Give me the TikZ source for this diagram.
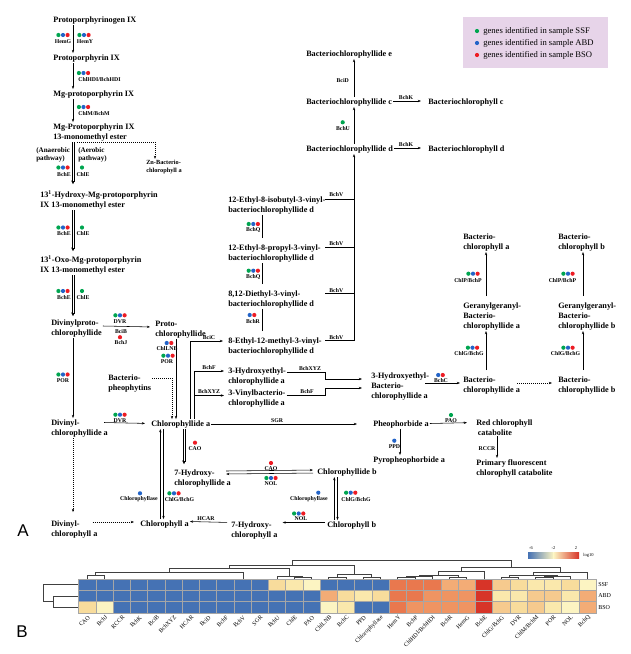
\documentclass[tikz,border=0pt]{standalone}
\usepackage{fontspec}
\setmainfont{Liberation Serif}
\newfontfamily\panelfont{Liberation Sans}
\usetikzlibrary{arrows.meta}

\definecolor{cssf}{RGB}{0,165,80}
\definecolor{cabd}{RGB}{35,100,200}
\definecolor{cbso}{RGB}{237,28,36}
\definecolor{legbg}{RGB}{231,212,233}
\definecolor{hmB}{RGB}{69,114,180}
\definecolor{hmY1}{RGB}{252,244,194}
\definecolor{hmY2}{RGB}{250,232,172}
\definecolor{hmY3}{RGB}{248,220,156}
\definecolor{hmY4}{RGB}{246,202,142}
\definecolor{hmO1}{RGB}{243,172,118}
\definecolor{hmO2}{RGB}{239,148,98}
\definecolor{hmO3}{RGB}{233,120,78}
\definecolor{hmR}{RGB}{215,52,40}

\def\allGBR{-4.6/cssf,0/cabd,4.6/cbso}
\def\pairBR{-2.3/cabd,2.3/cbso}
\def\onlyG{0/cssf}
\def\onlyB{0/cabd}
\def\onlyR{0/cbso}
\def\slh{/}
% left aligned lines, baseline on the first line
\newcommand{\cstack}[1]{\vtop{\halign{##\hfil\cr#1\crcr}}}

\begin{document}
\begin{tikzpicture}[
  x=1pt,y=-1pt,line width=0.55pt,
  cpd/.style={anchor=base west,inner sep=1pt,font=\fontsize{8.2}{10}\selectfont\bfseries},
  minor/.style={anchor=base west,inner sep=1pt,font=\fontsize{6.3}{8}\selectfont\bfseries},
  waylab/.style={anchor=base west,inner sep=0pt,font=\fontsize{7.1}{8}\selectfont\bfseries},
  enz/.style={inner sep=0.3pt,font=\fontsize{5.8}{6}\selectfont\bfseries},
  legtxt/.style={anchor=west,inner sep=0pt,font=\fontsize{8.6}{10}\selectfont},
  collab/.style={anchor=east,rotate=45,inner sep=0.5pt,font=\fontsize{6}{6}\selectfont},
  rowlab/.style={anchor=west,inner sep=0pt,font=\fontsize{6}{6}\selectfont},
  panel/.style={inner sep=0pt,font=\panelfont\fontsize{17}{17}\selectfont},
  arr/.style={-{Stealth[length=3.2pt,width=2.4pt]}},
  twinhead/.style={-{Stealth[length=3.6pt,width=3.6pt]}},
  dsh/.style={dash pattern=on 1pt off 1pt},
  dend/.style={draw=black!75,line width=0.7pt}
]
\useasboundingbox (0,0) rectangle (630,654);

\def\genes(#1,#2)#3;{\foreach \dx/\c in #3 {\fill[\c] (#1+\dx,#2) circle (2.1pt);}}
\def\den(#1,#2)(#3,#4)#5;{\draw[dend] (#1,#2) |- (#3,#5) -- (#3,#4);}
% two parallel lines with one head, from #1 down to #2
\def\twin#1#2{
  \draw[line width=0.45pt] ([xshift=-0.85pt]#1) -- ([xshift=-0.85pt,yshift=2pt]#2);
  \draw[line width=0.45pt] ([xshift=0.85pt]#1) -- ([xshift=0.85pt,yshift=2pt]#2);
  \draw[twinhead,line width=0.45pt] ([yshift=3pt]#2) -- (#2);
}

% legend
\fill[legbg] (463,17) rectangle (608,68);
\foreach \c/\s [count=\i] in {cssf/SSF,cabd/ABD,cbso/BSO} {
  \fill[\c] (477,19+12*\i) circle (2.1pt);
  \node[legtxt] (leg\s) at (483,19+12*\i) {genes identified in sample \s};
}

% compounds, left column
\node[cpd] (ppgen) at (52,22) {Protoporphyrinogen IX};
\node[cpd] (ppix) at (52,60) {Protoporphyrin IX};
\node[cpd] (mgpp) at (52,96) {Mg-protoporphyrin IX};
\node[cpd] (mgme) at (52,129) {\cstack{Mg-Protoporphyrin IX\cr 13-monomethyl ester}};
\node[waylab] (anaer) at (36,152.5) {\cstack{(Anaerobic\cr pathway)}};
\node[waylab] (aer) at (78,152.5) {\cstack{(Aerobic\cr pathway)}};
\node[minor] (znbchl) at (145,164.5) {\cstack{Zn-Bacterio-\cr chlorophyll a}};
\node[cpd] (hyd) at (39,197) {\cstack{13\textsuperscript{1}-Hydroxy-Mg-protoporphyrin\cr IX 13-monomethyl ester}};
\node[cpd] (oxo) at (39,262) {\cstack{13\textsuperscript{1}-Oxo-Mg-protoporphyrin\cr IX 13-monomethyl ester}};
\node[cpd] (dvpchlide) at (50,325) {\cstack{Divinylproto-\cr chlorophyllide}};
\node[cpd] (pchlide) at (154,326) {\cstack{Proto-\cr chlorophyllide}};
\node[cpd] (bpheo) at (107,380) {\cstack{Bacterio-\cr pheophytins}};
\node[cpd] (dvchlide) at (50,425) {\cstack{Divinyl-\cr chlorophyllide a}};
\node[cpd] (chlidea) at (150,426) {Chlorophyllide a};
\node[cpd] (hchlide) at (173,475) {\cstack{7-Hydroxy-\cr chlorophyllide a}};
\node[cpd] (chlideb) at (316,474) {Chlorophyllide b};
\node[cpd] (dvchl) at (50,526) {\cstack{Divinyl-\cr chlorophyll a}};
\node[cpd] (chla) at (139,526) {Chlorophyll a};
\node[cpd] (hchl) at (230,527) {\cstack{7-Hydroxy-\cr chlorophyll a}};
\node[cpd] (chlb) at (326,527) {Chlorophyll b};

% compounds, bacteriochlorophylls
\node[cpd] (bchlidee) at (305,56) {Bacteriochlorophyllide e};
\node[cpd] (bchlidec) at (305,104) {Bacteriochlorophyllide c};
\node[cpd] (bchlided) at (305,151) {Bacteriochlorophyllide d};
\node[cpd] (bchlc) at (427,104) {Bacteriochlorophyll c};
\node[cpd] (bchld) at (427,151) {Bacteriochlorophyll d};
\node[cpd] (eib) at (227,202) {\cstack{12-Ethyl-8-isobutyl-3-vinyl-\cr bacteriochlorophyllide d}};
\node[cpd] (epr) at (227,250) {\cstack{12-Ethyl-8-propyl-3-vinyl-\cr bacteriochlorophyllide d}};
\node[cpd] (dee) at (227,296) {\cstack{8,12-Diethyl-3-vinyl-\cr bacteriochlorophyllide d}};
\node[cpd] (eme) at (227,343) {\cstack{8-Ethyl-12-methyl-3-vinyl-\cr bacteriochlorophyllide d}};
\node[cpd] (hechlide) at (227,373) {\cstack{3-Hydroxyethyl-\cr chlorophyllide a}};
\node[cpd] (vbchlide) at (227,395) {\cstack{3-Vinylbacterio-\cr chlorophyllide a}};
\node[cpd] (hebchlide) at (370,378) {\cstack{3-Hydroxyethyl-\cr Bacterio-\cr chlorophyllide a}};
\node[cpd] (bchlidea) at (462,382) {\cstack{Bacterio-\cr chlorophyllide a}};
\node[cpd] (bchlideb) at (557,382) {\cstack{Bacterio-\cr chlorophyllide b}};
\node[cpd] (ggbchlidea) at (462,308) {\cstack{Geranylgeranyl-\cr Bacterio-\cr chlorophyllide a}};
\node[cpd] (ggbchlideb) at (557,308) {\cstack{Geranylgeranyl-\cr Bacterio-\cr chlorophyllide b}};
\node[cpd] (bchla) at (462,239) {\cstack{Bacterio-\cr chlorophyll a}};
\node[cpd] (bchlb) at (557,239) {\cstack{Bacterio-\cr chlorophyll b}};
\node[cpd] (pheo) at (372,426) {Pheophorbide a};
\node[cpd] (rcc) at (475,425) {\cstack{Red chlorophyll\cr\hskip1.5pt catabolite}};
\node[cpd] (pyro) at (372,462) {Pyropheophorbide a};
\node[cpd] (fcc) at (475,465) {\cstack{Primary fluorescent\cr chlorophyll catabolite}};

% x positions of the vertical connectors
\coordinate (sp) at (73,0);
\coordinate (spz) at (77,0);
\coordinate (xz) at (155,0);
\coordinate (xpc) at (176,0);
\coordinate (xbp) at (172,0);
\coordinate (xci) at (190,0);
\coordinate (xfi) at (194,0);
\coordinate (xca) at (160.3,0);
\coordinate (xcb) at (163.5,0);
\coordinate (xcao) at (184,0);
\coordinate (xda) at (334.3,0);
\coordinate (xdb) at (337.5,0);
\coordinate (xq) at (262,0);
\coordinate (xv) at (325,0);
\coordinate (xs) at (354,0);
\coordinate (xga) at (486,0);
\coordinate (xgb) at (583,0);
\coordinate (xppd) at (400,0);
\coordinate (xrccr) at (497,0);

% ends of the twin-line steps
\coordinate (tw1a) at (mgme.south -| sp);
\coordinate (tw1b) at ([yshift=5pt]hyd.north -| sp);
\coordinate (tw2a) at (hyd.south -| sp);
\coordinate (tw2b) at ([yshift=3pt]oxo.north -| sp);
\coordinate (tw3a) at (oxo.south -| sp);
\coordinate (tw3b) at ([yshift=2pt]dvpchlide.north -| sp);
\coordinate (tw4a) at (chlidea.south -| xcao);
\coordinate (tw4b) at ([yshift=4pt]hchlide.north -| xcao);

% connectors, left column
\draw[arr] (ppgen.south -| sp) -- (ppix.north -| sp);
\draw[arr] (ppix.south -| sp) -- (mgpp.north -| sp);
\draw[arr] (mgpp.south -| sp) -- (mgme.north -| sp);
\twin{tw1a}{tw1b}
\twin{tw2a}{tw2b}
\twin{tw3a}{tw3b}
\draw[arr,dsh] (mgme.south -| spz) -| (znbchl.north -| xz);
\draw[arr] (dvpchlide.south -| sp) -- (dvchlide.north -| sp);
\draw[arr,dsh,shorten >=7pt] (dvchlide.south -| sp) -- (dvchl.north -| sp);
\draw[arr,shorten >=4pt] ([yshift=-1pt]dvpchlide.base east) -- ([yshift=-1pt]pchlide.base west);
\draw[arr] (pchlide.south -| xpc) -- (chlidea.north -| xpc);
\draw[arr,dsh] ([yshift=2pt]bpheo.base east) -| (chlidea.north -| xbp);
\draw[arr,shorten >=5pt] ([xshift=-5pt,yshift=2.5pt]dvchlide.base east) -- ([yshift=2.5pt]chlidea.base west);
\draw[arr,shorten >=15pt] ([yshift=2pt]chlidea.base east) -- ([yshift=2pt]pheo.base west);
\draw[arr,shorten >=8pt] ([yshift=2.5pt]pheo.base east) -- ([yshift=2.5pt]rcc.base west);
\draw[arr] (pheo.south -| xppd) -- (pyro.north -| xppd);
\draw[arr] (rcc.south -| xrccr) -- (fcc.north -| xrccr);
\draw[arr,shorten >=4pt] (chlidea.north -| xci) |- ([yshift=2pt]eme.base west);
\draw[arr,shorten >=3pt] (chlidea.north -| xfi) |- ([yshift=2pt]hechlide.base west);
\draw[arr,shorten >=3pt] ([yshift=-0.5pt]vbchlide.base west -| xfi) -- ([yshift=-0.5pt]vbchlide.base west);
\draw[arr] (chla.north -| xca) -- (chlidea.south -| xca);
\draw[arr] (chlidea.south -| xcb) -- (chla.north -| xcb);
\twin{tw4a}{tw4b}
\draw[arr,shorten >=3pt] ([xshift=-6pt,yshift=4pt]hchlide.base east) -- ([yshift=4pt]chlideb.base west);
\draw[arr,shorten <=3pt] ([yshift=1pt]chlideb.base west) -- ([xshift=-6pt,yshift=1pt]hchlide.base east);
\draw[arr] (chlb.north -| xda) -- (chlideb.south -| xda);
\draw[arr] (chlideb.south -| xdb) -- (chlb.north -| xdb);
\draw[arr,shorten >=4pt,shorten <=1pt] ([yshift=4.5pt]chlb.base west) -- ([yshift=4.5pt]hchl.base east);
\draw[arr,shorten <=3pt] ([yshift=4.5pt]hchl.base west) -- ([yshift=4.5pt]chla.base east);
\draw[arr,dsh,shorten >=5pt] ([xshift=-6pt,yshift=4pt]dvchl.base east) -- ([yshift=4pt]chla.base west);

% connectors, bacteriochlorophylls
\draw[arr] (bchlidec.north -| xs) -- (bchlidee.south -| xs);
\draw[arr] (bchlided.north -| xs) -- (bchlidec.south -| xs);
\draw[arr] ([yshift=2.5pt]eme.base east -| xs) -- (bchlided.south -| xs);
\foreach \n in {eib,epr,dee,eme}
  \draw ([yshift=2.5pt]\n.base east -| xv) -- ([yshift=2.5pt]\n.base east -| xs);
\draw[shorten <=5pt] (eme.north -| xq) -- (dee.south -| xq);
\draw[shorten <=5pt] (dee.north -| xq) -- (epr.south -| xq);
\draw[shorten <=5pt] (epr.north -| xq) -- (eib.south -| xq);
\draw[arr,shorten >=6pt] ([yshift=3pt]bchlidec.base east) -- ([yshift=3pt]bchlc.base west);
\draw[arr,shorten >=6pt] ([yshift=3pt]bchlided.base east) -- ([yshift=3pt]bchld.base west);
\draw[arr,shorten >=8pt] ([yshift=1pt]hechlide.base east) -- ([yshift=1pt]hechlide.base east -| xv) |- ([yshift=-1pt]hebchlide.base west);
\draw[arr,shorten >=8pt] (vbchlide.base east) -- (vbchlide.base east -| xv) |- ([yshift=-10pt]hebchlide.base west);
\draw[arr,shorten >=2pt] ([xshift=-5pt,yshift=-5pt]hebchlide.base east) -- ([yshift=-1pt]bchlidea.base west);
\draw[arr,dsh,shorten >=5pt] ([xshift=-4pt,yshift=-1pt]bchlidea.base east) -- ([yshift=-1pt]bchlideb.base west);
\draw[arr,shorten <=5pt] (bchlidea.north -| xga) -- (ggbchlidea.south -| xga);
\draw[arr,shorten <=5pt] (ggbchlidea.north -| xga) -- (bchla.south -| xga);
\draw[arr,shorten <=5pt] (bchlideb.north -| xgb) -- (ggbchlideb.south -| xgb);
\draw[arr,shorten <=5pt] (ggbchlideb.north -| xgb) -- (bchlb.south -| xgb);

% enzymes
\node[enz] (eHemG) at (63,41.5) {HemG};             \genes(63,35)\allGBR;
\node[enz] (eHemY) at (85,41.5) {HemY};             \genes(84,35)\allGBR;
\node[enz] (eHDI) at (99.5,79.5) {ChlHDI/BchHDI};   \genes(83.5,73)\allGBR;
\node[enz] (eChlM) at (94,113.5) {ChlM/BchM};       \genes(83.5,107)\allGBR;
\node[enz] (eBchEa) at (64,174.5) {BchE};           \genes(63,167.5)\allGBR;
\node[enz] (eChlEa) at (83,174.5) {ChlE};           \genes(82,167.5)\onlyG;
\node[enz] (eBchEb) at (64,234) {BchE};             \genes(63,227.5)\allGBR;
\node[enz] (eChlEb) at (83,234) {ChlE};             \genes(82,227.5)\onlyG;
\node[enz] (eBchEc) at (64,297.5) {BchE};           \genes(63,291)\allGBR;
\node[enz] (eChlEc) at (83,297.5) {ChlE};           \genes(82,291)\onlyG;
\node[enz] (eDVRa) at (120,321.5) {DVR};            \genes(120,315.3)\allGBR;
\node[enz] (eBciB) at (121,332) {BciB};
\node[enz] (eBchJ) at (121,343) {BchJ};             \genes(120,337.2)\onlyR;
\node[enz] (eLNB) at (167,349) {ChlLNB};            \genes(169,343)\pairBR;
\node[enz] (ePORa) at (167,362) {POR};              \genes(168,355.7)\allGBR;
\node[enz] (ePORb) at (63,381) {POR};               \genes(63,374.5)\allGBR;
\node[enz] (eDVRb) at (120,420.5) {DVR};            \genes(120,414.7)\allGBR;
\node[enz] (eBciC) at (209,337.5) {BciC};
\node[enz] (eBchFa) at (209,367.5) {BchF};
\node[enz] (eXYZa) at (209,391.5) {BchXYZ};
\node[enz] (eCAOa) at (195,449) {CAO};              \genes(195,442.7)\onlyR;
\node[enz] (eCAOb) at (271,469) {CAO};              \genes(271,463)\onlyR;
\node[enz] (eNOLa) at (271,484) {NOL};              \genes(271,478)\allGBR;
\node[enz] (eCasea) at (139,499.3) {Chlorophyllase}; \genes(140,493.3)\onlyB;
\node[enz] (eChlGa) at (179.5,499.3) {ChlG/BchG};   \genes(174,493.3)\allGBR;
\node[enz] (eCaseb) at (309,499.3) {Chlorophyllase}; \genes(318.3,492.7)\onlyB;
\node[enz] (eChlGb) at (356,499.3) {ChlG/BchG};     \genes(350.7,492.7)\allGBR;
\node[enz] (eNOLb) at (301,519) {NOL};              \genes(298.7,513.5)\allGBR;
\node[enz] (eHCAR) at (206,518.5) {HCAR};
\node[enz] (eSGR) at (277,421) {SGR};
\node[enz] (ePAO) at (451,421) {PAO};               \genes(451,415)\onlyG;
\node[enz] (ePPD) at (394.5,446.7) {PPD};           \genes(394.3,440.7)\onlyB;
\node[enz] (eRCCR) at (487,448.5) {RCCR};
\node[enz] (eXYZb) at (310,368.5) {BchXYZ};
\node[enz] (eBchFb) at (307,392) {BchF};
\node[enz] (eBchC) at (441,381) {BchC};             \genes(440.5,375)\pairBR;
\node[enz] (eChlGc) at (469,354) {ChlG/BchG};       \genes(472.5,347.7)\allGBR;
\node[enz] (eChlGd) at (565.5,354) {ChlG/BchG};     \genes(568,347.7)\allGBR;
\node[enz] (eChlPa) at (468,280.7) {ChlP/BchP};     \genes(473,273.7)\allGBR;
\node[enz] (eChlPb) at (562.5,280.7) {ChlP/BchP};   \genes(568,273.7)\allGBR;
\node[enz] (eBchQa) at (253.3,230) {BchQ};          \genes(253.3,224)\allGBR;
\node[enz] (eBchQb) at (253.3,276.7) {BchQ};        \genes(253.3,270.7)\allGBR;
\node[enz] (eBchR) at (253,321.7) {BchR};           \genes(252,315)\pairBR;
\node[enz] (eBchVa) at (336.3,194.3) {BchV};
\node[enz] (eBchVb) at (336.3,243.7) {BchV};
\node[enz] (eBchVc) at (336.3,290.3) {BchV};
\node[enz] (eBchVd) at (336.3,337.7) {BchV};
\node[enz] (eBciD) at (342.7,80.7) {BciD};
\node[enz] (eBchU) at (343,128.3) {BchU};           \genes(342.7,122.3)\onlyG;
\node[enz] (eBchKa) at (406,97.5) {BchK};
\node[enz] (eBchKb) at (406,144.5) {BchK};

% panel letters
\node[panel] (pA) at (23,531) {A};
\node[panel] (pB) at (22,632) {B};

% column dendrogram
\den(87.1,579)(104.4,579)575;
\den(95.8,575)(243,579)572;
\den(294.1,579)(311.4,579)577.5;
\den(276.9,579)(302.8,577.5)576;
\den(328.6,579)(345.9,579)577;
\den(363.1,579)(380.4,579)577.5;
\den(337.3,577)(371.8,577.5)574.5;
\den(169.4,572)(289.8,576)568.5;
\den(229.6,568.5)(354.5,574.5)565.5;
\den(397.6,579)(414.9,579)577.5;
\den(406.3,577.5)(432.1,579)576.5;
\den(449.4,579)(466.6,579)577;
\den(419.2,576.5)(458,577)575;
\den(438.6,575)(483.9,579)571.5;
\den(501.1,579)(518.4,579)577.5;
\den(535.6,579)(552.9,579)577.5;
\den(544.3,577.5)(570.1,579)576.5;
\den(509.8,577.5)(557.2,576.5)575;
\den(533.5,575)(587.4,579)572.5;
\den(461.3,571.5)(560.5,572.5)567.5;
\den(292,565.5)(510.9,567.5)560;

% row dendrogram
\draw[dend] (78.5,596) -- (53,596) -- (53,607.3) -- (78.5,607.3);
\draw[dend] (53,601.7) -- (43,601.7) -- (43,584.7) -- (78.5,584.7);

% heatmap
\foreach \g/\cs/\ca/\cb [count=\i] in {CAO/hmB/hmB/hmY3, BchJ/hmB/hmB/hmY1, RCCR/hmB/hmB/hmB,
  BchK/hmB/hmB/hmB, BciB/hmB/hmB/hmB, BchXYZ/hmB/hmB/hmB, HCAR/hmB/hmB/hmB, BciD/hmB/hmB/hmB,
  BchF/hmB/hmB/hmB, BchV/hmB/hmB/hmB, SGR/hmB/hmB/hmB, BchU/hmY3/hmB/hmB, ChlE/hmY2/hmB/hmB,
  PAO/hmY1/hmB/hmB, ChlLNB/hmB/hmO1/hmY1, BchC/hmB/hmY3/hmY2, PPD/hmB/hmY2/hmB,
  Chlorophyllase/hmB/hmY3/hmB, HemY/hmO3/hmO3/hmO3, BchP/hmO3/hmO3/hmO2,
  ChlHDI\slh BchHDI/hmO3/hmO2/hmO2, BchR/hmO1/hmO2/hmO2, HemG/hmO1/hmO2/hmO2, BchE/hmR/hmR/hmR,
  ChlG\slh BchG/hmY4/hmY2/hmY4, DVR/hmY3/hmY2/hmY3, ChlM\slh BchM/hmY2/hmY4/hmY4,
  POR/hmY2/hmY4/hmY2, NOL/hmY3/hmY2/hmY1, BchQ/hmY1/hmO1/hmO1} {
  \pgfmathsetmacro\xl{78.5+17.25*(\i-1)}
  \filldraw[fill=\cs,draw=black!35,line width=0.4pt] (\xl,579) rectangle ++(17.25,11.33);
  \filldraw[fill=\ca,draw=black!35,line width=0.4pt] (\xl,590.33) rectangle ++(17.25,11.33);
  \filldraw[fill=\cb,draw=black!35,line width=0.4pt] (\xl,601.67) rectangle ++(17.25,11.33);
  \node[collab] (g\i) at (\xl+11,616) {\g};
}
\node[rowlab] (rSSF) at (598,584.7) {SSF};
\node[rowlab] (rABD) at (598,596) {ABD};
\node[rowlab] (rBSO) at (598,607.3) {BSO};

% colour key
\shade[left color=hmB,right color=hmY1] (528,552) rectangle (553.5,558);
\shade[left color=hmY1,right color=hmR] (553.5,552) rectangle (579,558);
\node[rowlab,anchor=center,font=\fontsize{4.5}{5}\selectfont] (k1) at (531,548) {-6};
\node[rowlab,anchor=center,font=\fontsize{4.5}{5}\selectfont] (k2) at (553.5,548) {-2};
\node[rowlab,anchor=center,font=\fontsize{4.5}{5}\selectfont] (k3) at (576,548) {2};
\node[rowlab,font=\fontsize{4.5}{5}\selectfont] (k4) at (583,555) {log10};

\end{tikzpicture}
\end{document}
